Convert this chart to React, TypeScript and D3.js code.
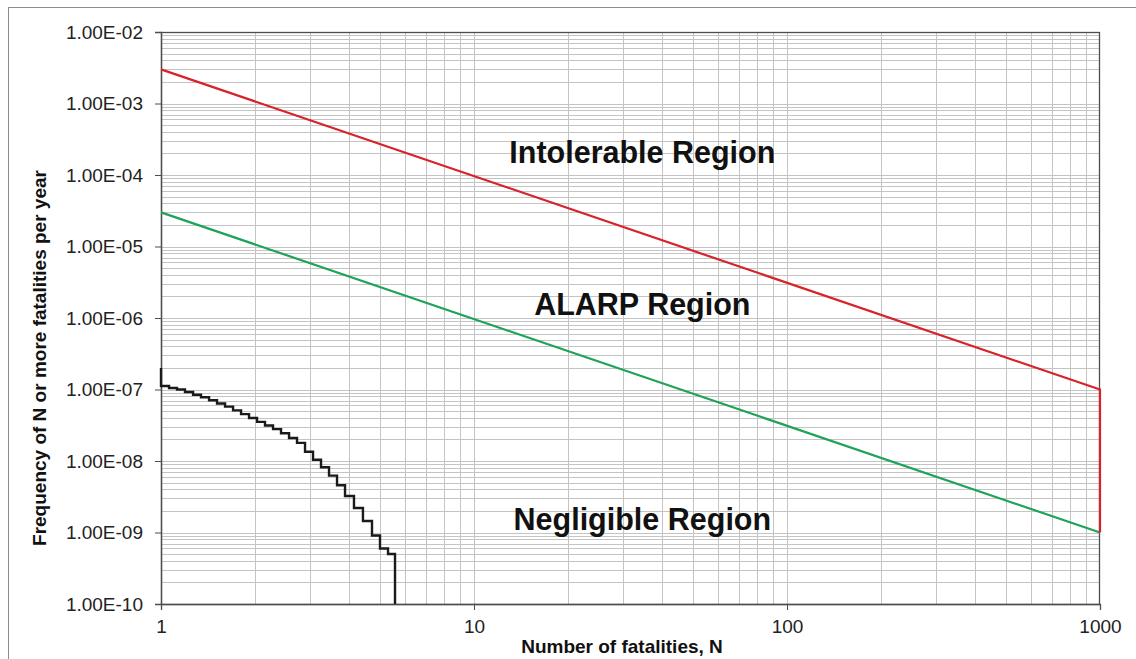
import React, { useEffect, useRef } from 'react';
import * as d3 from 'd3';

// criterion lines (N, frequency)
const criteriaN = [1, 1000];
const upperF = [3e-3, 1e-7];
const lowerF = [3e-5, 1e-9];

// F-N curve: step edges and the level after each edge
const curveStartF = 2e-7;
const stepN = [
  1.0, 1.061, 1.125, 1.193, 1.266, 1.342, 1.424, 1.51, 1.602, 1.699,
  1.802, 1.911, 2.027, 2.149, 2.28, 2.418, 2.565, 2.72, 2.885, 3.06,
  3.245, 3.442, 3.651, 3.872, 4.136, 4.418, 4.722, 5.008, 5.313, 5.593,
];
const stepF = [
  1.12e-7, 1.05e-7, 1.0e-7, 9.23e-8, 8.46e-8, 7.78e-8, 7.06e-8, 6.37e-8, 5.77e-8, 5.1e-8,
  4.52e-8, 3.99e-8, 3.53e-8, 3.14e-8, 2.79e-8, 2.45e-8, 2.1e-8, 1.79e-8, 1.35e-8, 1.04e-8,
  8.17e-9, 6.25e-9, 4.59e-9, 3.24e-9, 2.2e-9, 1.45e-9, 9.08e-10, 5.97e-10, 5.0e-10,
];

const xTicks = [1, 10, 100, 1000];
const yTicks = [1e-2, 1e-3, 1e-4, 1e-5, 1e-6, 1e-7, 1e-8, 1e-9, 1e-10];
const yTickLabels = ['1.00E-02', '1.00E-03', '1.00E-04', '1.00E-05', '1.00E-06', '1.00E-07', '1.00E-08', '1.00E-09', '1.00E-10'];

const regions = [
  { label: 'Intolerable Region', n: 34.5, f: 1.47e-4 },
  { label: 'ALARP Region', n: 34.5, f: 1.1e-6 },
  { label: 'Negligible Region', n: 34.5, f: 1.1e-9 },
];

const FONT = "'Liberation Sans', Arial, sans-serif";

const App = () => {
  const ref = useRef<SVGSVGElement>(null);

  useEffect(() => {
    const svg = d3.select(ref.current);
    svg.selectAll('*').remove();

    const left = 161, right = 1100, top = 32, bottom = 604;
    const x = d3.scaleLog().domain([1, 1000]).range([left, right]);
    const y = d3.scaleLog().domain([1e-10, 1e-2]).range([bottom, top]);

    // outer chart border (runs off the picture on the right and bottom)
    svg.append('rect')
      .attr('x', 8.5).attr('y', 7.5)
      .attr('width', 1160).attr('height', 700)
      .attr('fill', '#fff').attr('stroke', '#8c8c8c').attr('stroke-width', 1);

    // minor + major grid
    const xGrid: number[] = [];
    for (let d = 1; d < 1000; d *= 10) for (let k = 2; k <= 9; k++) xGrid.push(d * k);
    const yGrid: number[] = [];
    for (let d = 1e-10; d < 1e-2 * 0.99; d *= 10) for (let k = 2; k <= 9; k++) yGrid.push(d * k);

    const grid = svg.append('g').attr('stroke', '#c4c4c4').attr('stroke-width', 1);
    grid.selectAll('line.gx').data(xGrid.concat([10, 100])).enter().append('line')
      .attr('x1', d => Math.round(x(d)) + 0.5).attr('x2', d => Math.round(x(d)) + 0.5)
      .attr('y1', top).attr('y2', bottom);
    grid.selectAll('line.gy').data(yGrid.concat(yTicks.slice(1, -1))).enter().append('line')
      .attr('y1', d => Math.round(y(d)) + 0.5).attr('y2', d => Math.round(y(d)) + 0.5)
      .attr('x1', left).attr('x2', right);

    // plot frame
    svg.append('rect')
      .attr('x', left + 0.5).attr('y', top + 0.5)
      .attr('width', right - left - 1).attr('height', bottom - top)
      .attr('fill', 'none').attr('stroke', '#4d4d4d').attr('stroke-width', 1.3);

    // axes
    const yAxis = d3.axisLeft(y).tickValues(yTicks).tickSize(6).tickPadding(12)
      .tickFormat((_d, i) => yTickLabels[i]);
    const gy = svg.append('g').attr('transform', `translate(${left},0)`).call(yAxis);
    gy.select('.domain').attr('stroke', '#4d4d4d').attr('stroke-width', 1.3);
    gy.selectAll('.tick line').attr('stroke', '#4d4d4d');
    gy.selectAll('.tick text').attr('font-family', FONT).attr('font-size', 19).attr('fill', '#222');

    const xAxis = d3.axisBottom(x).tickValues(xTicks).tickSize(6).tickPadding(10)
      .tickFormat(d3.format('d'));
    const gx = svg.append('g').attr('transform', `translate(0,${bottom})`).call(xAxis);
    gx.select('.domain').attr('stroke', '#4d4d4d').attr('stroke-width', 1.3);
    gx.selectAll('.tick line').attr('stroke', '#4d4d4d');
    gx.selectAll('.tick text').attr('font-family', FONT).attr('font-size', 19).attr('fill', '#222');

    // criterion lines
    const line = d3.line<[number, number]>().x(d => x(d[0])).y(d => y(d[1]));
    const upper = criteriaN.map((n, i) => [n, upperF[i]] as [number, number]);
    const lower = criteriaN.map((n, i) => [n, lowerF[i]] as [number, number]);
    svg.append('path').attr('d', line(lower)).attr('fill', 'none')
      .attr('stroke', '#1fa35a').attr('stroke-width', 2.2);
    svg.append('path')
      .attr('d', line(upper.concat([[criteriaN[1], lowerF[1]]])))
      .attr('fill', 'none').attr('stroke', '#d8232a').attr('stroke-width', 2.2);

    // F-N step curve
    const pts: [number, number][] = [[stepN[0], curveStartF]];
    stepF.forEach((f, i) => pts.push([stepN[i], f]));
    pts.push([stepN[stepN.length - 1], 1e-10]);
    const stepLine = d3.line<[number, number]>()
      .x(d => x(d[0])).y(d => y(d[1])).curve(d3.curveStepAfter);
    svg.append('path').attr('d', stepLine(pts)).attr('fill', 'none')
      .attr('stroke', '#1a1a1a').attr('stroke-width', 2.4);

    // region labels
    svg.selectAll('text.region').data(regions).enter().append('text')
      .attr('x', d => x(d.n)).attr('y', d => y(d.f))
      .attr('text-anchor', 'middle')
      .attr('font-family', FONT).attr('font-weight', 'bold').attr('font-size', 30.5)
      .attr('fill', '#111')
      .text(d => d.label);

    // axis titles
    svg.append('text')
      .attr('x', 622).attr('y', 653)
      .attr('text-anchor', 'middle')
      .attr('font-family', FONT).attr('font-weight', 'bold').attr('font-size', 19)
      .attr('fill', '#111')
      .text('Number of fatalities,  N');
    svg.append('text')
      .attr('transform', 'translate(46,358) rotate(-90)')
      .attr('text-anchor', 'middle')
      .attr('font-family', FONT).attr('font-weight', 'bold').attr('font-size', 19)
      .attr('fill', '#111')
      .text('Frequency of N or more fatalities  per year');
  }, []);

  return (
    <div style={{ position: 'fixed', left: 0, top: 0 }}>
      <svg ref={ref} width={1136} height={659} style={{ display: 'block', background: '#fff' }} />
    </div>
  );
};

export default App;
